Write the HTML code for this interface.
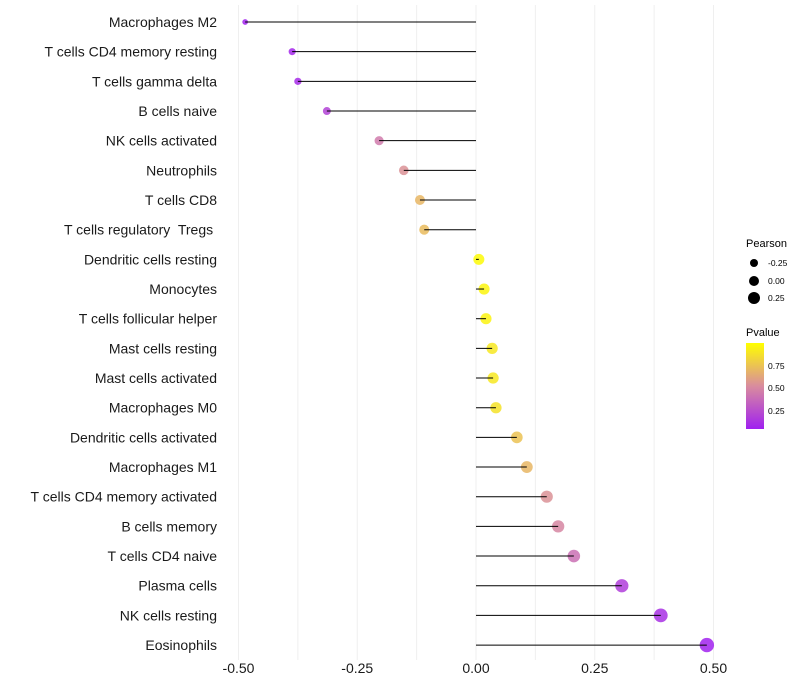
<!DOCTYPE html>
<html><head><meta charset="utf-8"><style>
body{margin:0;background:#fff;font-family:"Liberation Sans",sans-serif}
svg{display:block}
text{white-space:pre}
</style></head><body>
<svg id="chart" width="800" height="700" xmlns="http://www.w3.org/2000/svg" font-family="Liberation Sans, sans-serif">
<defs><linearGradient id="pg" x1="0" y1="1" x2="0" y2="0">
<stop offset="0" stop-color="#A020F0"/><stop offset="0.5" stop-color="#D98C9E"/><stop offset="1" stop-color="#FFFF00"/></linearGradient></defs>
<g id="grid"></g>
<g id="marks"></g>
<g id="labels"></g>
<g id="xticks"></g>
<g>
<text x="746" y="247" font-size="11">Pearson</text>
<circle cx="754" cy="263" r="4" fill="#000"/>
<text x="768" y="266" font-size="8.5">-0.25</text>
<circle cx="754" cy="281" r="5" fill="#000"/>
<text x="768" y="284" font-size="8.5">0.00</text>
<circle cx="754" cy="298" r="6" fill="#000"/>
<text x="768" y="301" font-size="8.5">0.25</text>
</g>
<g>
<text x="746" y="336" font-size="11">Pvalue</text>
<rect x="746" y="343" width="18" height="86" fill="url(#pg)"/>
<text x="768" y="369" font-size="8.5">0.75</text>
<text x="768" y="391" font-size="8.5">0.50</text>
<text x="768" y="414" font-size="8.5">0.25</text>
</g>
</svg>
<script>
const categories=["Macrophages M2","T cells CD4 memory resting","T cells gamma delta","B cells naive","NK cells activated","Neutrophils","T cells CD8","T cells regulatory  Tregs ","Dendritic cells resting","Monocytes","T cells follicular helper","Mast cells resting","Mast cells activated","Macrophages M0","Dendritic cells activated","Macrophages M1","T cells CD4 memory activated","B cells memory","T cells CD4 naive","Plasma cells","NK cells resting","Eosinophils"];
const pearson=[-0.486,-0.387,-0.375,-0.314,-0.204,-0.152,-0.118,-0.109,0.006,0.017,0.021,0.034,0.036,0.042,0.086,0.107,0.149,0.173,0.206,0.307,0.389,0.486];
const pvalue=[0.06,0.08,0.1,0.2,0.45,0.55,0.7,0.72,0.98,0.96,0.95,0.9,0.9,0.88,0.75,0.7,0.55,0.5,0.4,0.18,0.12,0.06];
const xTicks=[-0.5,-0.25,0,0.25,0.5];
const xTickLabels=["-0.50","-0.25","0.00","0.25","0.50"];
const NS="http://www.w3.org/2000/svg";
const X=v=>476+v*475, Y=i=>22+i*29.67;
function mk(t,a,p){const e=document.createElementNS(NS,t);for(const k in a)e.setAttribute(k,a[k]);p.appendChild(e);return e;}
function lerp(a,b,t){return a.map((v,i)=>Math.round(v+(b[i]-v)*t));}
function col(p){const s=[[160,32,240],[217,140,158],[255,255,0]];const t=Math.max(0,Math.min(1,(p-0.05)/0.95));
const c=t<0.5?lerp(s[0],s[1],t*2):lerp(s[1],s[2],(t-0.5)*2);return `rgb(${c})`;}
const grid=document.getElementById('grid');
for(let g=-0.5;g<=0.5001;g+=0.125){const l=mk('line',{x1:X(g),x2:X(g),y1:5,y2:660,stroke:'#efefef','stroke-width':1},grid);
}
const marks=document.getElementById('marks'),labels=document.getElementById('labels');
categories.forEach((c,i)=>{
 const r=Math.sqrt(Math.max(4,30+45*pearson[i]));
 const pt=mk('circle',{cx:X(pearson[i]),cy:Y(i),r:r,fill:col(pvalue[i]),'fill-opacity':0.85},marks);
 
 const sg=mk('line',{x1:X(0),x2:X(pearson[i]),y1:Y(i),y2:Y(i),stroke:'#000','stroke-width':1},marks);
 
 const t=mk('text',{x:217,y:Y(i)+5,'text-anchor':'end','font-size':14,fill:'#1a1a1a'},labels);t.textContent=c;
 
});
const xt=document.getElementById('xticks');
xTicks.forEach((v,i)=>{const t=mk('text',{x:X(v),y:673,'text-anchor':'middle','font-size':14,fill:'#1a1a1a'},xt);t.textContent=xTickLabels[i];
 });
</script>
</body></html>
